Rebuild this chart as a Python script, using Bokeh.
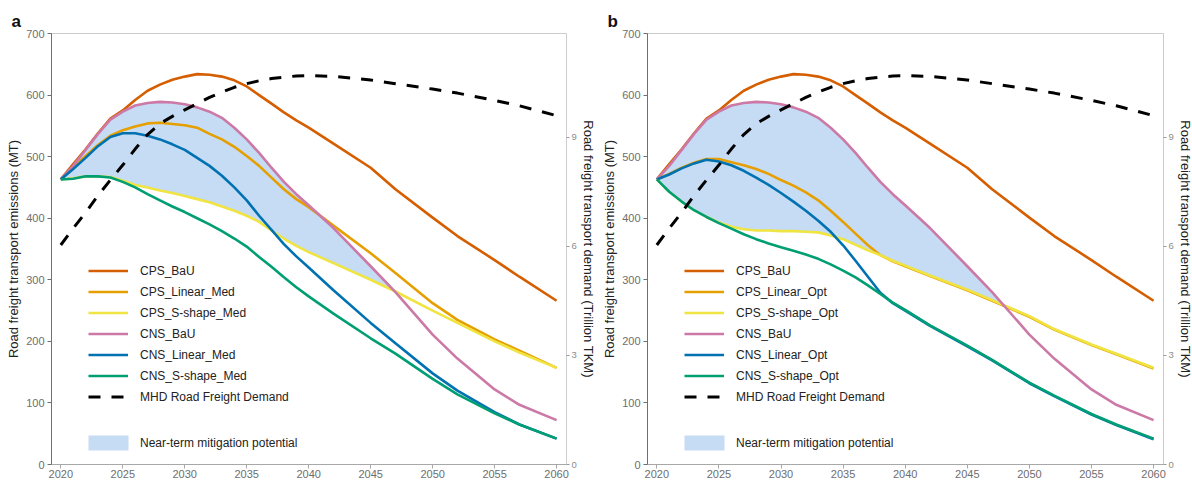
import numpy as np
from bokeh.plotting import figure
from bokeh.models import Range1d, LinearAxis, Legend, LegendItem, FixedTicker
from bokeh.layouts import row
from bokeh.embed import file_html
from bokeh.resources import INLINE

years = list(range(2020, 2041)) + [2042, 2045, 2047, 2050, 2052, 2055, 2057, 2060]

# shared series
cps_bau = [463, 488, 512, 538, 562, 575, 592, 607, 617, 625, 630, 634, 633, 630, 624, 614, 600, 586,
           572, 559, 547, 521, 482, 447, 401, 371, 332, 305, 266]
cns_bau = [463, 485, 511, 537, 560, 573, 583, 587, 589, 588, 585, 580, 573, 563, 547, 528, 506, 482,
           459, 439, 421, 384, 322, 280, 211, 172, 122, 97, 72]
demand = [6.04, 6.5, 6.93, 7.4, 7.83, 8.24, 8.68, 9.08, 9.38, 9.58, 9.76, 9.93, 10.1, 10.25, 10.38,
          10.48, 10.56, 10.62, 10.66, 10.69, 10.7, 10.68, 10.58, 10.48, 10.33, 10.22, 10.02, 9.87, 9.6]

# panel a (Med)
a_cps_linear = [463, 482, 501, 519, 534, 543, 549, 554, 555, 553, 551, 547, 537, 528, 516, 501, 485, 466,
                447, 431, 418, 388, 343, 311, 262, 235, 203, 185, 157]
a_cps_sshape = [463, 465, 468, 468, 467, 461, 454, 450, 445, 441, 436, 431, 426, 419, 412, 404, 394, 380,
                367, 355, 345, 327, 300, 281, 250, 230, 200, 182, 157]
a_cns_linear = [463, 480, 498, 517, 532, 538, 538, 534, 528, 520, 511, 498, 485, 469, 450, 429, 404, 381,
                358, 338, 320, 283, 230, 197, 148, 120, 85, 65, 42]
a_cns_sshape = [463, 464, 468, 468, 466, 459, 450, 439, 429, 419, 410, 400, 390, 379, 367, 354, 337, 321,
                304, 288, 273, 245, 205, 180, 139, 114, 83, 65, 42]

# panel b (Opt)
b_cps_linear = [463, 472, 482, 490, 496, 496, 491, 486, 480, 472, 462, 453, 442, 429, 412, 394, 375, 356,
                340, 330, 322, 306, 283, 266, 240, 219, 194, 179, 156]
b_cps_sshape = [463, 443, 427, 413, 402, 393, 386, 382, 380, 380, 379, 379, 378, 377, 372, 366, 357, 348,
                340, 331, 323, 307, 284, 267, 241, 220, 195, 180, 157]
b_cns_linear = [463, 471, 481, 489, 495, 492, 486, 477, 466, 454, 441, 427, 412, 396, 378, 356, 331, 305,
                279, 262, 250, 225, 192, 169, 132, 111, 81, 64, 41]
b_cns_sshape = [463, 443, 427, 413, 402, 392, 383, 374, 366, 359, 353, 347, 341, 334, 325, 315, 304, 291,
                277, 263, 251, 226, 193, 170, 133, 112, 82, 65, 42]

names_a = ["CPS_BaU", "CPS_Linear_Med", "CPS_S-shape_Med", "CNS_BaU", "CNS_Linear_Med", "CNS_S-shape_Med"]
names_b = ["CPS_BaU", "CPS_Linear_Opt", "CPS_S-shape_Opt", "CNS_BaU", "CNS_Linear_Opt", "CNS_S-shape_Opt"]
colors = ["#D55E00", "#E69F00", "#F0E442", "#CC79A7", "#0072B2", "#009E73"]
demand_label = "MHD Road Freight Demand"
fill_label = "Near-term mitigation potential"
fill_color = "#c5dcf4"
x_ticks = list(range(2020, 2061, 5))
y_ticks = list(range(0, 701, 100))
r_ticks = [0, 3, 6, 9]

FONT = "Liberation Sans"
FRAME_H = 431


def shade(x, upper, lower):
    xs, lo, hi = [], [], []
    for i in range(len(x)):
        if i > 0:
            d0 = upper[i - 1] - lower[i - 1]
            d1 = upper[i] - lower[i]
            if d0 * d1 < 0:
                t = d0 / (d0 - d1)
                xc = x[i - 1] + t * (x[i] - x[i - 1])
                yc = lower[i - 1] + t * (lower[i] - lower[i - 1])
                xs.append(xc); lo.append(yc); hi.append(yc)
        xs.append(x[i]); lo.append(lower[i]); hi.append(max(upper[i], lower[i]))
    return xs, lo, hi


def panel(tag, series, names, fw, left, right):
    p = figure(frame_width=fw, frame_height=FRAME_H, x_range=Range1d(2019.25, 2060.8),
               y_range=Range1d(0, 700), output_backend="svg", toolbar_location=None,
               min_border_left=left, min_border_right=right, min_border_top=33, min_border_bottom=10)
    p.extra_y_ranges = {"demand": Range1d(0, 11.86)}
    p.xgrid.visible = False
    p.ygrid.visible = False
    p.outline_line_color = "#cccccc"
    p.background_fill_color = "white"
    p.border_fill_color = "white"

    p.title.text = tag
    p.title.text_font = FONT
    p.title.text_font_size = "17px"
    p.title.text_font_style = "bold"
    p.title.text_color = "#111111"
    p.title.offset = -40
    p.title.standoff = 6

    xs, lo, hi = shade(years, series[3], series[2])
    fill_r = p.varea(x=xs, y1=lo, y2=hi, fill_color=fill_color, fill_alpha=1.0)

    rends = []
    for s, c in zip(series, colors):
        rends.append(p.line(years, s, line_color=c, line_width=2.6))
    dem_r = p.line(years, demand, y_range_name="demand", line_color="black", line_width=3,
                   line_dash="12 11")

    xa = p.xaxis[0]
    xa.ticker = FixedTicker(ticks=x_ticks)
    xa.axis_line_color = "#a8a8a8"
    xa.major_tick_line_color = "#a8a8a8"
    xa.major_tick_out = 4
    xa.major_tick_in = 0
    xa.minor_tick_line_color = None
    xa.major_label_text_font = FONT
    xa.major_label_text_font_size = "11px"
    xa.major_label_text_color = "#6e6e6e"
    xa.major_label_standoff = 1

    ya = p.yaxis[0]
    ya.ticker = FixedTicker(ticks=y_ticks)
    ya.axis_line_color = "#707070"
    ya.major_tick_line_color = "#707070"
    ya.major_tick_out = 4
    ya.major_tick_in = 0
    ya.minor_tick_line_color = None
    ya.major_label_text_font = FONT
    ya.major_label_text_font_size = "11px"
    ya.major_label_text_color = "#6e6e6e"
    ya.major_label_standoff = 3
    ya.axis_label = "Road freight transport emissions (MT)"
    ya.axis_label_text_font = FONT
    ya.axis_label_text_font_size = "13px"
    ya.axis_label_text_font_style = "normal"
    ya.axis_label_text_color = "#222222"
    ya.axis_label_standoff = 2

    ra = LinearAxis(y_range_name="demand", ticker=FixedTicker(ticks=r_ticks))
    ra.axis_line_color = "#cccccc"
    ra.major_tick_line_color = "#999999"
    ra.major_tick_out = 3
    ra.major_tick_in = 0
    ra.minor_tick_line_color = None
    ra.major_label_text_font = FONT
    ra.major_label_text_font_size = "9.5px"
    ra.major_label_text_color = "#8c8c8c"
    ra.major_label_standoff = 2
    ra.axis_label = "Road freight transport demand (Trillion TKM)"
    ra.axis_label_text_font = FONT
    ra.axis_label_text_font_size = "13px"
    ra.axis_label_text_font_style = "normal"
    ra.axis_label_text_color = "#222222"
    ra.axis_label_standoff = 1
    p.add_layout(ra, "right")

    items = [LegendItem(label=n, renderers=[r]) for n, r in zip(names, rends)]
    items.append(LegendItem(label=demand_label, renderers=[dem_r]))
    leg = Legend(items=items, location=(37, 60), glyph_width=40, glyph_height=15, label_height=15,
                 spacing=6, label_standoff=12, padding=0, margin=0,
                 background_fill_alpha=0, border_line_alpha=0,
                 label_text_font=FONT, label_text_font_size="12px", label_text_color="#222222")
    p.add_layout(leg)

    leg2 = Legend(items=[LegendItem(label=fill_label, renderers=[fill_r])], location=(32, 12),
                  glyph_width=50, glyph_height=19, label_height=19, label_standoff=7, padding=0, margin=0,
                  background_fill_alpha=0, border_line_alpha=0,
                  label_text_font=FONT, label_text_font_size="12px", label_text_color="#222222")
    p.add_layout(leg2)
    return p


series_a = [cps_bau, a_cps_linear, a_cps_sshape, cns_bau, a_cns_linear, a_cns_sshape]
series_b = [cps_bau, b_cps_linear, b_cps_sshape, cns_bau, b_cns_linear, b_cns_sshape]

pa = panel("a", series_a, names_a, 515, 51, 30)
pb = panel("b", series_b, names_b, 516, 49, 24)

layout = row(pa, pb)
open("out.html", "w").write(file_html(layout, INLINE))
